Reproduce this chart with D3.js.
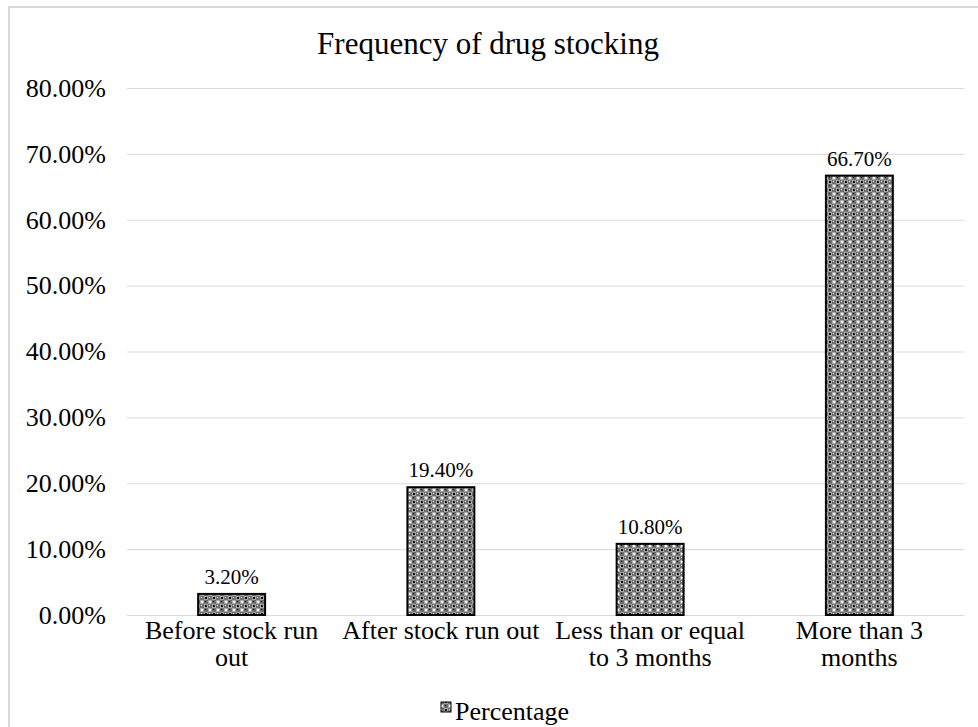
<!DOCTYPE html>
<html>
<head>
<meta charset="utf-8">
<script src="https://cdn.jsdelivr.net/npm/d3@7/dist/d3.min.js"></script>
<style>
  body { margin: 0; background: #fff; }
  svg text { font-family: "Liberation Serif", "DejaVu Serif", serif !important; fill: #000; }
</style>
</head>
<body>
<div id="chart"></div>
<script>
// categories and values
var categories = ["Before stock run out", "After stock run out", "Less than or equal to 3 months", "More than 3 months"];
var categoryLines = [["Before stock run", "out"], ["After stock run out"], ["Less than or equal", "to 3 months"], ["More than 3", "months"]];
var percentages = [3.2, 19.4, 10.8, 66.7];
var yTicks = [0, 10, 20, 30, 40, 50, 60, 70, 80];
var seriesName = "Percentage";

var width = 978, height = 727;
var margin = {left: 127, right: 14, top: 88, bottom: 112};
var serif = "'Liberation Serif', 'DejaVu Serif', serif";

var svg = d3.select("#chart").append("svg")
  .attr("width", width)
  .attr("height", height);

// hatch fill like the excel pattern
var defs = svg.append("defs");
var pat = defs.append("pattern")
  .attr("id", "weave")
  .attr("patternUnits", "userSpaceOnUse")
  .attr("width", 8).attr("height", 8);
pat.append("rect").attr("width", 8).attr("height", 8).attr("fill", "#6e6e6e");
pat.append("rect").attr("x", 0).attr("y", 0).attr("width", 4).attr("height", 4).attr("fill", "#a8a8a8");
pat.append("rect").attr("x", 4).attr("y", 4).attr("width", 4).attr("height", 4).attr("fill", "#a8a8a8");
pat.append("rect").attr("x", 1).attr("y", 1).attr("width", 2).attr("height", 2).attr("fill", "#fff");
pat.append("rect").attr("x", 5).attr("y", 5).attr("width", 2).attr("height", 2).attr("fill", "#000");
pat.append("rect").attr("x", 5).attr("y", 1).attr("width", 1).attr("height", 1).attr("fill", "#000");
pat.append("rect").attr("x", 1).attr("y", 5).attr("width", 1).attr("height", 1).attr("fill", "#fff");

// chart frame
svg.append("rect")
  .attr("x", 9).attr("y", 7)
  .attr("width", 980).attr("height", 740)
  .attr("fill", "none")
  .attr("stroke", "#d9d9d9")
  .attr("stroke-width", 2);

var x = d3.scaleBand()
  .domain(categories)
  .range([margin.left, width - margin.right])
  .paddingInner(0.68)
  .paddingOuter(0.34);

var y = d3.scaleLinear()
  .domain([0, 80])
  .range([height - margin.bottom, margin.top]);

// gridlines
svg.append("g")
  .selectAll("line")
  .data(yTicks)
  .enter().append("line")
  .attr("x1", margin.left)
  .attr("x2", width - margin.right)
  .attr("y1", function(d) { return y(d) + 0.5; })
  .attr("y2", function(d) { return y(d) + 0.5; })
  .attr("stroke", "#d9d9d9")
  .attr("stroke-width", 1);

// y axis labels
var yAxis = d3.axisLeft(y)
  .tickValues(yTicks)
  .tickSize(0)
  .tickPadding(21)
  .tickFormat(function(d) { return d.toFixed(2) + "%"; });

svg.append("g")
  .attr("transform", "translate(" + margin.left + ",0)")
  .call(yAxis)
  .call(function(g) { g.select(".domain").remove(); })
  .selectAll("text")
  .style("font-family", serif)
  .style("font-size", "26px")
  .attr("fill", "#000");

// bars
svg.selectAll(".bar")
  .data(percentages)
  .enter().append("rect")
  .attr("class", "bar")
  .attr("x", function(d, i) { return x(categories[i]); })
  .attr("y", function(d) { return y(d); })
  .attr("width", x.bandwidth())
  .attr("height", function(d) { return y(0) - y(d); })
  .attr("fill", "url(#weave)")
  .attr("stroke", "#000")
  .attr("stroke-width", 2);

// value labels
svg.selectAll(".val")
  .data(percentages)
  .enter().append("text")
  .attr("class", "val")
  .attr("x", function(d, i) { return x(categories[i]) + x.bandwidth() / 2; })
  .attr("y", function(d) { return y(d) - 10; })
  .attr("text-anchor", "middle")
  .style("font-family", serif)
  .style("font-size", "21px")
  .text(function(d) { return d.toFixed(2) + "%"; });

// category labels
var cat = svg.selectAll(".cat")
  .data(categories)
  .enter().append("text")
  .attr("class", "cat")
  .attr("text-anchor", "middle")
  .style("font-family", serif)
  .style("font-size", "26px");

cat.each(function(d, i) {
  var t = d3.select(this);
  categoryLines[i].forEach(function(line, j) {
    t.append("tspan")
      .attr("x", x(d) + x.bandwidth() / 2)
      .attr("y", y(0) + 24 + j * 27)
      .text(line);
  });
});

// title
svg.append("text")
  .attr("x", 488)
  .attr("y", 54)
  .attr("text-anchor", "middle")
  .style("font-family", serif)
  .style("font-size", "31px")
  .text("Frequency of drug stocking");

// legend
var legend = svg.append("g");
legend.append("rect")
  .attr("x", 441).attr("y", 702)
  .attr("width", 10).attr("height", 10)
  .attr("fill", "url(#weave)")
  .attr("stroke", "#000")
  .attr("stroke-width", 1);
legend.append("text")
  .attr("x", 455)
  .attr("y", 720)
  .style("font-family", serif)
  .style("font-size", "26px")
  .text(seriesName);
</script>
</body>
</html>
